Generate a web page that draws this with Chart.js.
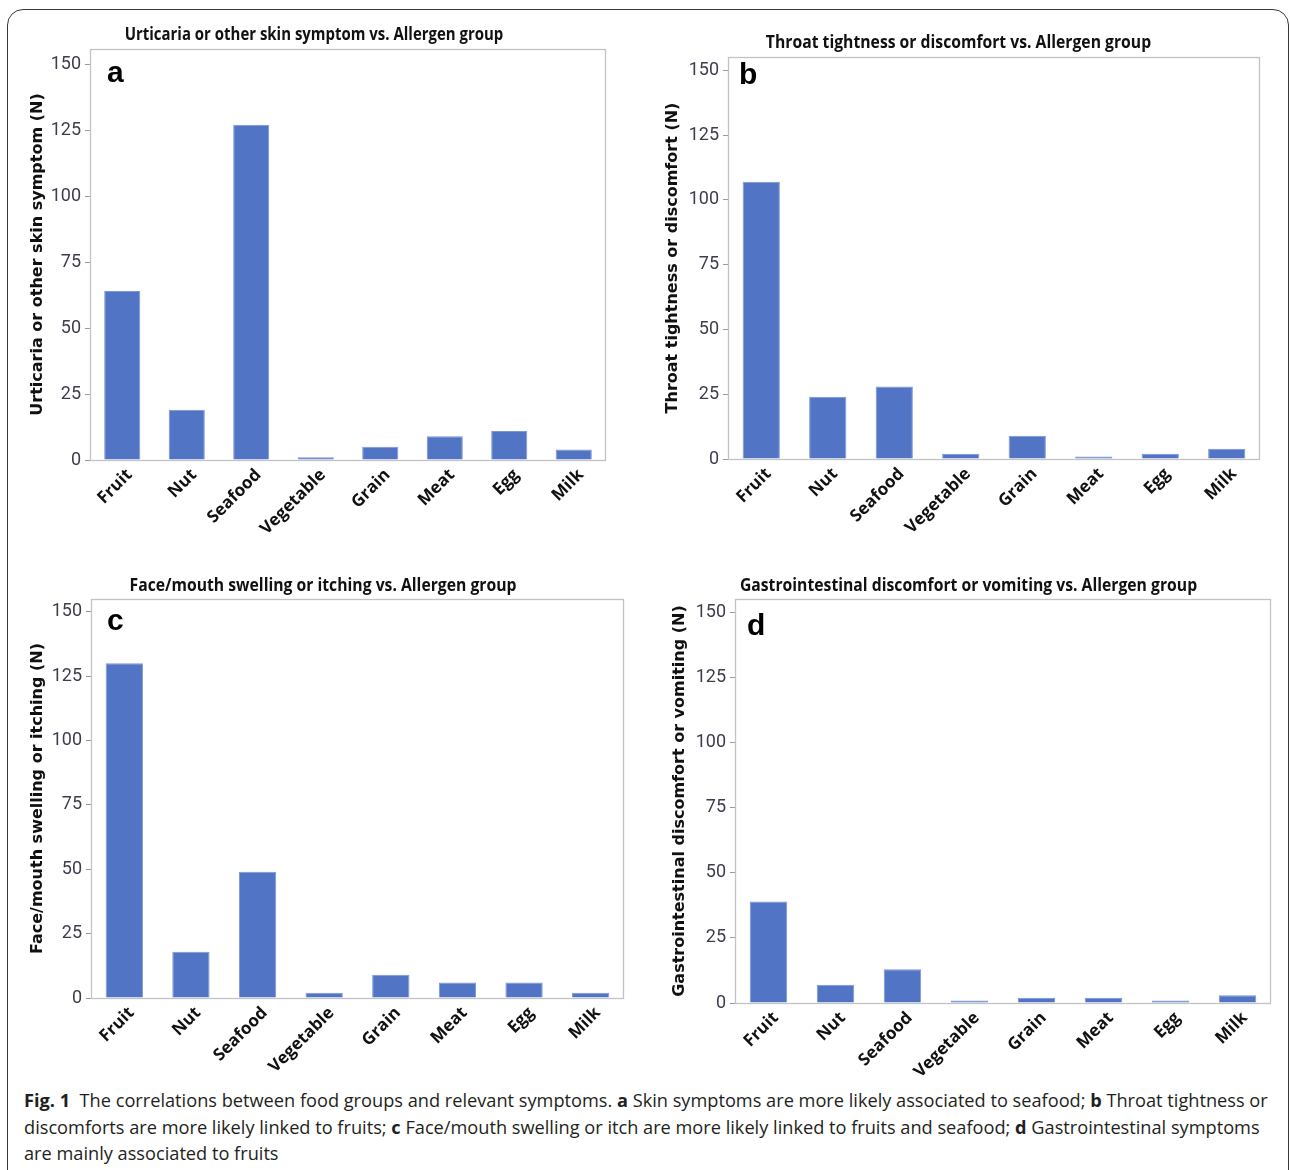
<!DOCTYPE html>
<html><head><meta charset="utf-8">
<script src="https://cdn.jsdelivr.net/npm/chart.js@4.4.1/dist/chart.umd.min.js"></script>
<style>
html,body{margin:0;padding:0;background:#fff;}
body{width:1290px;height:1170px;position:relative;overflow:hidden;}
#frame{position:absolute;left:7px;top:9px;width:1282px;height:1220px;border:1.5px solid #3a3a3a;border-radius:16px;box-sizing:border-box;}
canvas{position:absolute;}
#caption{position:absolute;left:24px;top:1087px;font-family:'Open Sans',sans-serif;font-size:18.2px;line-height:26.5px;color:#231f20;white-space:nowrap;}
#caption b{font-weight:700;}
</style></head>
<body>
<div id="frame"></div>
<canvas id="ca" width="608" height="545" style="left:10px;top:15px"></canvas>
<canvas id="cb" width="616" height="538" style="left:650px;top:22px"></canvas>
<canvas id="cc" width="624" height="515" style="left:10px;top:565px"></canvas>
<canvas id="cd" width="616" height="515" style="left:660px;top:565px"></canvas>
<div id="caption"><b>Fig. 1</b>&nbsp; The correlations between food groups and relevant symptoms. <b>a</b> Skin symptoms are more likely associated to seafood; <b>b</b> Throat tightness or<br>discomforts are more likely linked to fruits; <b>c</b> Face/mouth swelling or itch are more likely linked to fruits and seafood; <b>d</b> Gastrointestinal symptoms<br>are mainly associated to fruits</div>
<script>
// ---- data ----
const categories = ['Fruit', 'Nut', 'Seafood', 'Vegetable', 'Grain', 'Meat', 'Egg', 'Milk'];
const skinCounts = [64, 19, 127, 1, 5, 9, 11, 4];
const throatCounts = [107, 24, 28, 2, 9, 1, 2, 4];
const faceCounts = [130, 18, 49, 2, 9, 6, 6, 2];
const giCounts = [39, 7, 13, 1, 2, 2, 1, 3];
const yTickValues = [0, 25, 50, 75, 100, 125, 150];
const panelTitles = [
  'Urticaria or other skin symptom vs. Allergen group',
  'Throat tightness or discomfort vs. Allergen group',
  'Face/mouth swelling or itching vs. Allergen group',
  'Gastrointestinal discomfort or vomiting vs. Allergen group'
];
const yAxisTitles = [
  'Urticaria or other skin symptom (N)',
  'Throat tightness or discomfort (N)',
  'Face/mouth swelling or itching (N)',
  'Gastrointestinal discomfort or vomiting (N)'
];
const panelLetters = ['a', 'b', 'c', 'd'];

// ---- styling / layout ----
const BAR = '#5274c5';

const panelPlugin = {
  id: 'panelDeco',
  beforeDatasetsDraw(chart) {
    const a = chart.chartArea, ctx = chart.ctx;
    ctx.save();
    ctx.strokeStyle = '#c3c3c3';
    ctx.lineWidth = 1.3;
    ctx.strokeRect(a.left + 0.5, a.top + 0.5, a.right - a.left - 1, a.bottom - a.top);
    ctx.restore();
  },
  afterDraw(chart, args, opts) {
    const a = chart.chartArea, ctx = chart.ctx;
    ctx.save();
    ctx.fillStyle = '#111';
    ctx.font = "bold 17px 'Open Sans',sans-serif";
    ctx.textAlign = 'center';
    ctx.textBaseline = 'middle';
    ctx.translate(opts.titleX, opts.titleY);
    ctx.scale(opts.titleScale, 1);
    ctx.fillText(opts.title, 0, 0);
    ctx.restore();
    ctx.save();
    ctx.fillStyle = '#000';
    ctx.font = "bold 30px 'Liberation Sans',Arial,sans-serif";
    ctx.textBaseline = 'alphabetic';
    ctx.textAlign = 'left';
    ctx.fillText(opts.letter, a.left + opts.dx, a.top + opts.dy);
    ctx.restore();
  }
};

function makeChart(id, values, idx, cfg) {
  new Chart(document.getElementById(id), {
    type: 'bar',
    data: {
      labels: categories,
      datasets: [{
        data: values,
        backgroundColor: BAR,
        borderColor: '#7b96d6',
        borderWidth: 1,
        barPercentage: 0.56,
        categoryPercentage: 1.0
      }]
    },
    plugins: [panelPlugin],
    options: {
      responsive: false,
      animation: false,
      devicePixelRatio: 1,
      layout: { padding: { left: 0, right: cfg.padRight, top: cfg.padTop, bottom: 0 } },
      plugins: {
        legend: { display: false },
        tooltip: { enabled: false },
        title: { display: false },
        panelDeco: {
          letter: panelLetters[idx], dx: cfg.letterDx, dy: cfg.letterDy,
          title: panelTitles[idx], titleX: cfg.titleX, titleY: cfg.titleY, titleScale: cfg.titleScale
        }
      },
      scales: {
        x: {
          grid: { display: false },
          border: { display: false },
          ticks: {
            color: '#111',
            font: { family: "'Open Sans',sans-serif", size: 17, weight: 'bold' },
            minRotation: 45, maxRotation: 45, padding: -3, autoSkip: false,
            showLabelBackdrop: true, backdropColor: 'rgba(0,0,0,0)', backdropPadding: 0
          },
          afterFit(s) { s.height = cfg.xHeight; }
        },
        y: {
          min: 0, max: cfg.yMax,
          afterBuildTicks(s) { s.ticks = yTickValues.map(v => ({ value: v })); },
          grid: { display: true, drawOnChartArea: false, drawTicks: true, tickLength: 5, color: '#9a9a9a' },
          border: { display: false },
          ticks: {
            color: '#3d3d4f',
            font: { family: "Roboto,sans-serif", size: 18 },
            padding: 4
          },
          title: {
            display: true,
            text: yAxisTitles[idx],
            color: '#111',
            font: { family: "'DejaVu Sans',sans-serif", size: 16, weight: 'bold', lineHeight: 1.2 },
            padding: { top: cfg.yTitlePad, bottom: 0 }
          },
          afterFit(s) { s.width = cfg.yWidth; }
        }
      }
    }
  });
}

makeChart('ca', skinCounts, 0, { padRight: 12, padTop: 34, xHeight: 100, yWidth: 80, yTitlePad: 18, yMax: 155.7,
  letterDx: 17, letterDy: 33, titleX: 304, titleY: 20, titleScale: 0.88 });
makeChart('cb', throatCounts, 1, { padRight: 6, padTop: 35, xHeight: 101, yWidth: 78, yTitlePad: 13, yMax: 155.2,
  letterDx: 11, letterDy: 27, titleX: 308.5, titleY: 21, titleScale: 0.925 });
makeChart('cc', faceCounts, 2, { padRight: 10, padTop: 34, xHeight: 82, yWidth: 81, yTitlePad: 18, yMax: 155,
  letterDx: 16, letterDy: 31, titleX: 313, titleY: 21, titleScale: 0.925 });
makeChart('cd', giCounts, 3, { padRight: 5, padTop: 34, xHeight: 77, yWidth: 75, yTitlePad: 10, yMax: 155.3,
  letterDx: 12, letterDy: 36, titleX: 308.5, titleY: 21, titleScale: 0.925 });
</script>
</body></html>
